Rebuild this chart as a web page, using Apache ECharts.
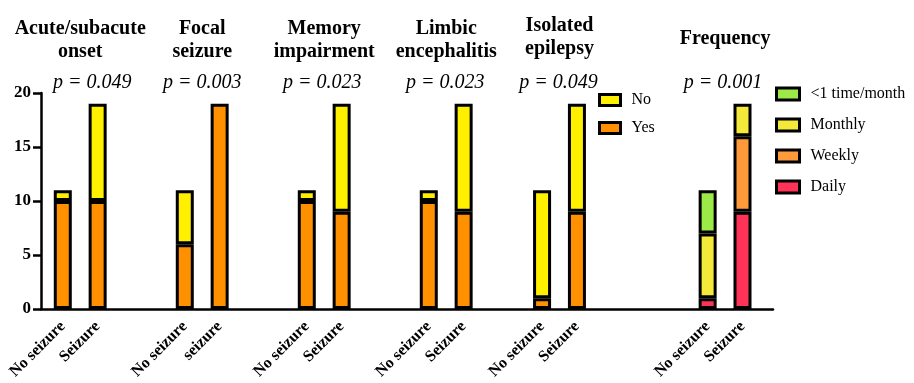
<!DOCTYPE html>
<html>
<head>
<meta charset="utf-8">
<script src="https://cdn.jsdelivr.net/npm/echarts@6/dist/echarts.min.js"></script>
<style>html,body{margin:0;padding:0;background:#fff;}#c{width:914px;height:383px;}</style>
</head>
<body>
<div id="c"></div>
<script>
// ---- data ----
const categories = ['No seizure','Seizure','No seizure','seizure','No seizure','Seizure','No seizure','Seizure','No seizure','Seizure','No seizure','Seizure'];
const groupTitles = ['Acute/subacute\nonset','Focal\nseizure','Memory\nimpairment','Limbic\nencephalitis','Isolated\nepilepsy','Frequency'];
const pValues = ['p = 0.049','p = 0.003','p = 0.023','p = 0.023','p = 0.049','p = 0.001'];
// binary panels (first 10 bars)
const yesValues = [10,10, 6,19, 10,9, 10,9, 1,9];
const noValues  = [1,9,   5,0,  1,10, 1,10, 10,10];
// frequency panel (last 2 bars)
const dailyValues   = [1,9];
const weeklyValues  = [0,7];
const monthlyValues = [6,3];
const rareValues    = [4,0];
const yTicks = [0,5,10,15,20];

// ---- layout (slot index of each bar on a fine category grid) ----
const SLOTS = 84;
const slotIndex = [2,6,16,20,30,34,44,48,57,61,76,80];
const slotSet = new Set(slotIndex);
const pShift = [12,0,-2,-1,-1,-2];
const axisCats = new Array(SLOTS).fill('');
slotIndex.forEach((s,i)=>{ axisCats[s] = categories[i]; });

function place(values, firstBar){
  const arr = new Array(SLOTS).fill('-');
  values.forEach((v,i)=>{ arr[slotIndex[firstBar+i]] = v === 0 ? '-' : v; });
  return arr;
}

const FONT = '"Liberation Serif","Times New Roman",serif';
const border = {borderColor:'#000', borderWidth:3};
const C = {yes:'#FF9000', no:'#FFF000', daily:'#FF3358', weekly:'#FF9A3A', monthly:'#F4E93A', rare:'#9BEA48'};

function bar(name, data, color){
  return {name, type:'bar', stack:'s', barWidth:18, data,
    itemStyle:Object.assign({color}, border), emphasis:{disabled:true}, silent:true};
}

const chart = echarts.init(document.getElementById('c'), null, {renderer:'canvas'});
chart.setOption({
  animation:false,
  grid:{left:41, right:141, top:93, bottom:74, containLabel:false},
  legend:[
    {data:['No','Yes'], orient:'vertical', left:593, top:87, icon:'rect', itemWidth:21, itemHeight:11, itemGap:12,
     itemStyle:{borderColor:'#000', borderWidth:3},
     textStyle:{fontFamily:FONT, fontSize:16, color:'#000', padding:[0,0,0,6]}, selectedMode:false},
    {data:['<1 time/month','Monthly','Weekly','Daily'], orient:'vertical', left:770, top:81, icon:'rect', itemWidth:23, itemHeight:12, itemGap:15,
     itemStyle:{borderColor:'#000', borderWidth:3},
     textStyle:{fontFamily:FONT, fontSize:16, color:'#000', padding:[0,0,0,6]}, selectedMode:false}
  ],
  xAxis:{type:'category', data:axisCats, boundaryGap:true,
    axisLine:{lineStyle:{color:'#000', width:2.5}},
    axisTick:{alignWithLabel:true, length:7, lineStyle:{color:'#000', width:2.5}, interval:(i)=>slotSet.has(i)},
    axisLabel:{interval:0, rotate:45, margin:15, fontFamily:FONT, fontWeight:'bold', fontSize:16, color:'#000'},
    splitLine:{show:false}},
  yAxis:{type:'value', min:0, max:20, interval:5,
    axisLine:{show:true, lineStyle:{color:'#000', width:2.5}},
    axisTick:{show:true, length:8, lineStyle:{color:'#000', width:2.5}},
    axisLabel:{margin:10, fontFamily:FONT, fontWeight:'bold', fontSize:17, color:'#000',
      formatter:(v)=> yTicks.includes(v) ? String(v) : ''},
    splitLine:{show:false}},
  series:[
    bar('Yes', place(yesValues,0), C.yes),
    bar('No', place(noValues,0), C.no),
    bar('Daily', place(dailyValues,10), C.daily),
    bar('Weekly', place(weeklyValues,10), C.weekly),
    bar('Monthly', place(monthlyValues,10), C.monthly),
    bar('<1 time/month', place(rareValues,10), C.rare)
  ]
});

// annotations centred over each pair of bars
const graphics = [];
groupTitles.forEach((t,g)=>{
  const x1 = chart.convertToPixel({xAxisIndex:0}, slotIndex[2*g]);
  const x2 = chart.convertToPixel({xAxisIndex:0}, slotIndex[2*g+1]);
  const cx = (x1+x2)/2;
  const single = t.indexOf('\n') < 0;
  const top = single ? 27 : (g === 4 ? 14 : 17);
  graphics.push({type:'text', x:cx, y:top, silent:true,
    style:{text:t, fontFamily:FONT, fontWeight:'bold', fontSize:20, lineHeight:23, fill:'#000', align:'center', verticalAlign:'top'}});
  graphics.push({type:'text', x:cx + pShift[g], y:83, silent:true,
    style:{text:pValues[g], fontFamily:FONT, fontStyle:'italic', fontSize:20, fill:'#000', align:'center', verticalAlign:'middle'}});
});
chart.setOption({graphic:graphics});
</script>
</body>
</html>
